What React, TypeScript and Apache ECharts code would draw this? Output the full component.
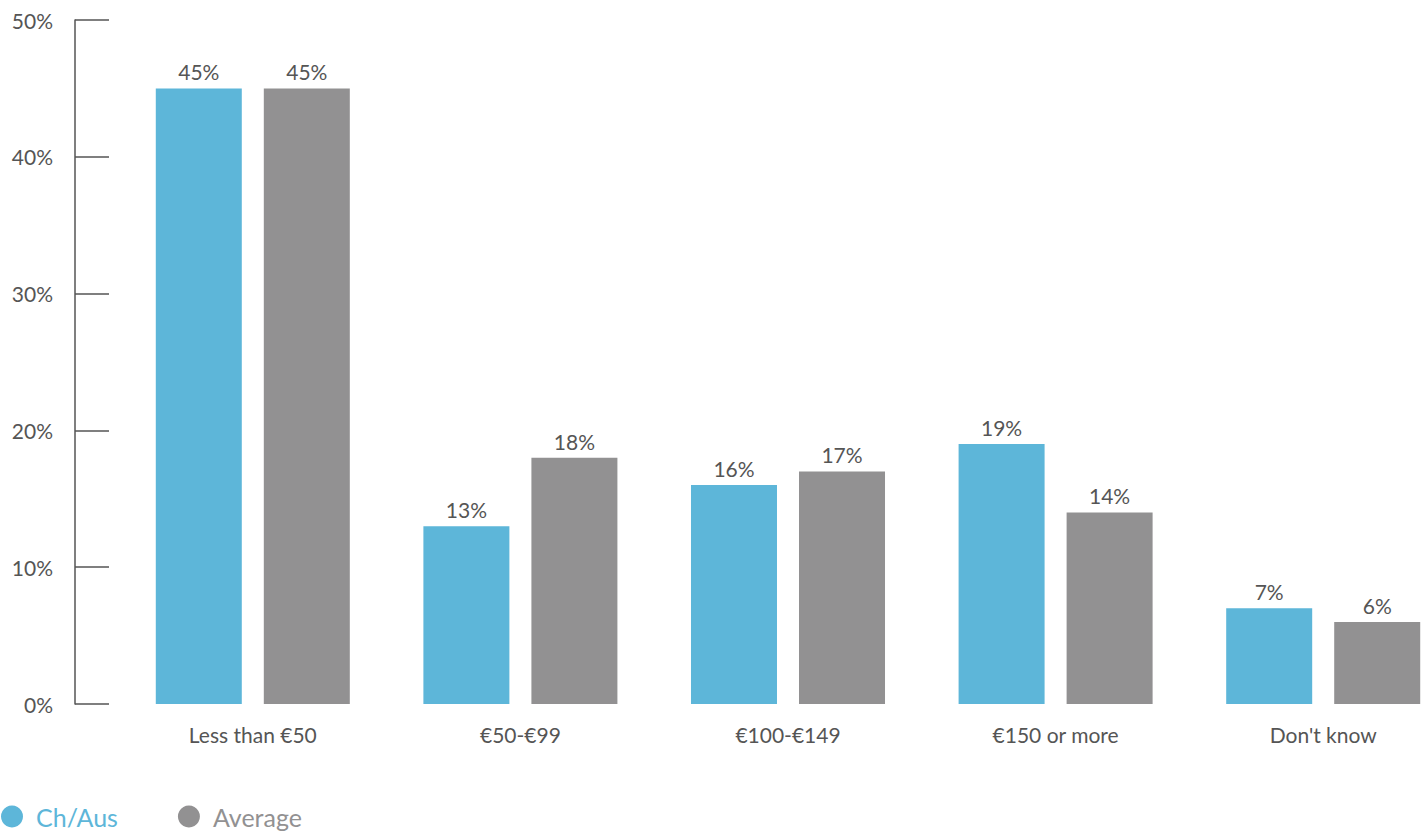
import React, { useEffect, useRef } from "react";
import * as echarts from "echarts";

const categories = ["Less than €50", "€50-€99", "€100-€149", "€150 or more", "Don't know"];
const chAus = [45, 13, 16, 19, 7];
const average = [45, 18, 17, 14, 6];
const seriesNames = ["Ch/Aus", "Average"];
const BLUE = "#5db6d9";
const GRAY = "#929192";
const TEXT = "#555555";
const FONT = "Lato, 'Open Sans', sans-serif";

export default function App() {
  const ref = useRef<HTMLDivElement>(null);
  useEffect(() => {
    if (!ref.current) return;
    const chart = echarts.init(ref.current, undefined, { renderer: "svg" });
    const label = {
      show: true,
      position: "top",
      distance: 6,
      formatter: "{c}%",
      color: TEXT,
      fontSize: 21,
      fontFamily: FONT,
    };
    chart.setOption({
      animation: false,
      textStyle: { fontFamily: FONT },
      grid: { left: 119, top: 20, width: 1338, height: 684, containLabel: false },
      legend: {
        left: 1,
        top: 804,
        padding: 0,
        icon: "circle",
        itemWidth: 22,
        itemHeight: 22,
        itemGap: 60,
        textStyle: { fontSize: 25, fontFamily: FONT, padding: [0, 0, 0, 8] },
        data: [
          { name: seriesNames[0], textStyle: { color: BLUE } },
          { name: seriesNames[1], textStyle: { color: GRAY } },
        ],
      },
      xAxis: {
        type: "category",
        data: categories,
        axisLine: { show: false },
        axisTick: { show: false },
        axisLabel: { color: TEXT, fontSize: 21, fontFamily: FONT, margin: 20 },
      },
      yAxis: {
        type: "value",
        min: 0,
        max: 50,
        interval: 10,
        offset: 44,
        axisLine: { show: true, lineStyle: { color: "#555", width: 1.5 } },
        axisTick: { show: true, inside: true, length: 34, lineStyle: { color: "#555", width: 1.5 } },
        splitLine: { show: false },
        axisLabel: { color: TEXT, fontSize: 21, fontFamily: FONT, margin: 22, formatter: "{value}%" },
      },
      series: [
        {
          name: seriesNames[0],
          type: "bar",
          data: chAus,
          barWidth: 86,
          barGap: "25.6%",
          itemStyle: { color: BLUE },
          label,
        },
        {
          name: seriesNames[1],
          type: "bar",
          data: average,
          barWidth: 86,
          barGap: "25.6%",
          itemStyle: { color: GRAY },
          label,
        },
      ],
    });
    return () => chart.dispose();
  }, []);
  return (
    <div style={{ position: "absolute", left: 0, top: 0, width: 1427, height: 831, overflow: "hidden" }}>
      <div ref={ref} style={{ width: 1460, height: 831 }} />
    </div>
  );
}
